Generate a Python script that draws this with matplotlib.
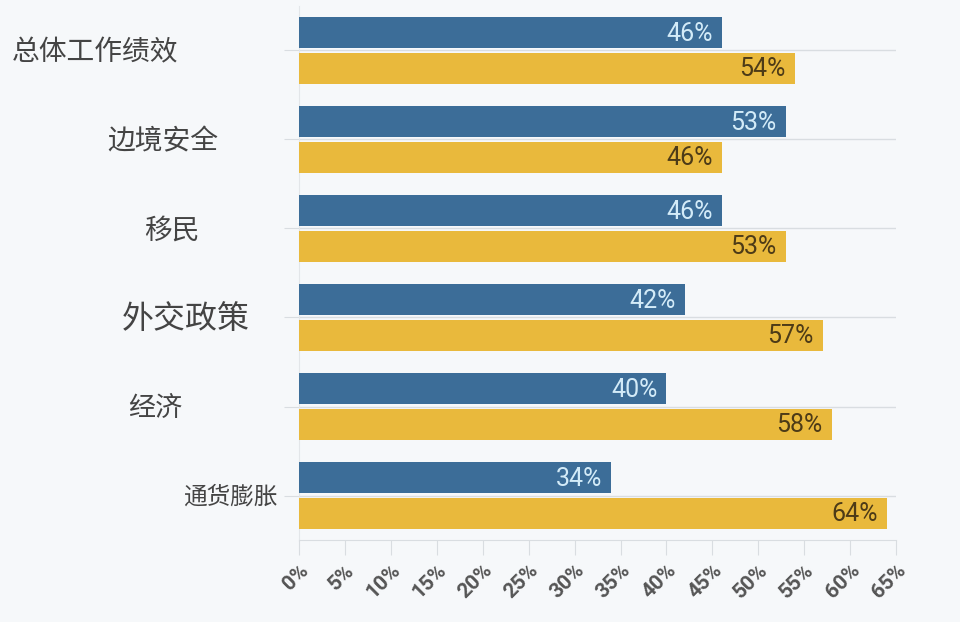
import matplotlib.pyplot as plt
import matplotlib.transforms as mtransforms
import numpy as np

plt.rcParams['font.family'] = ['Noto Sans CJK SC', 'DejaVu Sans']

# data
categories = ['总体工作绩效', '边境安全', '移民', '外交政策', '经济', '通货膨胀']
approve = [46, 53, 46, 42, 40, 34]
disapprove = [54, 46, 53, 57, 58, 64]
xticks = list(range(0, 70, 5))

blue = '#3c6d98'
yellow = '#e9b93c'
bg = '#f6f8fa'

fig = plt.figure(figsize=(9.6, 6.22), dpi=100, facecolor=bg)
ax = fig.add_axes([0.3115, 0.1318, 0.622, 0.8586], facecolor=bg)

y = np.arange(len(categories))
h = 0.35
ax.barh(y - 0.2, approve, height=h, color=blue, zorder=3)
ax.barh(y + 0.2, disapprove, height=h, color=yellow, zorder=3)

for i in range(len(categories)):
    ax.text(approve[i] - 1.0, y[i] - 0.19, f'{approve[i]}%', ha='right', va='center',
            color='#d3ebf8', fontsize=18, family='Roboto', zorder=4)
    ax.text(disapprove[i] - 1.0, y[i] + 0.21, f'{disapprove[i]}%', ha='right', va='center',
            color='#4d3b17', fontsize=18, family='Roboto', zorder=4)

ax.set_ylim(len(categories) - 0.5, -0.5)
ax.set_xlim(0, 65)
ax.set_yticks(y)
ax.set_yticklabels([])
ax.set_xticks(xticks)
ax.set_xticklabels([f'{t}%' for t in xticks], rotation=45, ha='right',
                   rotation_mode='anchor', fontsize=15, fontweight='bold',
                   color='#555555', family='Roboto')

ax.grid(axis='y', color='#d9dde1', linewidth=1, zorder=0)
ax.tick_params(axis='y', length=11, color='#d9dde1')
ax.tick_params(axis='x', length=11, color='#d9dde1', pad=4)
for s in ['top', 'right']:
    ax.spines[s].set_visible(False)
ax.spines['left'].set_color('#e3e6e9')
ax.spines['bottom'].set_color('#d9dde1')

# category labels, each placed by hand as in the source
label_right = [178, 218, 200, 250, 182, 278]
label_size = [20, 20, 20, 23, 19.5, 17]
trans = mtransforms.blended_transform_factory(fig.transFigure, ax.transData)
for i, c in enumerate(categories):
    ax.text(label_right[i] / 960, y[i] + 0.02, c, transform=trans, ha='right', va='center',
            fontsize=label_size[i], color='#444444')

fig.savefig('out.png', dpi=100, facecolor=bg)
